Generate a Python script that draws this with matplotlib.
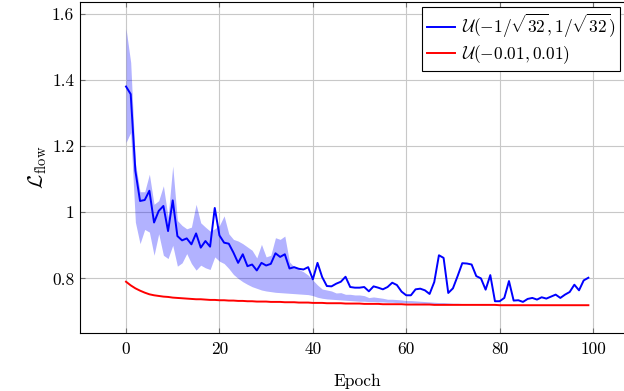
import matplotlib
matplotlib.use("Agg")
import matplotlib.pyplot as plt
import numpy as np

epochs = list(range(100))

blue_line = [1.380, 1.357, 1.125, 1.034, 1.037, 1.065, 0.969, 1.004, 1.019, 0.943,
             1.036, 0.928, 0.915, 0.921, 0.903, 0.936, 0.893, 0.913, 0.896, 1.013,
             0.930, 0.908, 0.905, 0.878, 0.847, 0.873, 0.837, 0.842, 0.824, 0.847,
             0.839, 0.844, 0.876, 0.865, 0.873, 0.830, 0.834, 0.829, 0.827, 0.834,
             0.797, 0.847, 0.804, 0.777, 0.776, 0.784, 0.790, 0.805, 0.774, 0.772,
             0.772, 0.774, 0.761, 0.776, 0.772, 0.767, 0.774, 0.787, 0.780, 0.760,
             0.749, 0.749, 0.767, 0.769, 0.764, 0.753, 0.789, 0.870, 0.862, 0.756,
             0.770, 0.807, 0.846, 0.845, 0.842, 0.807, 0.800, 0.766, 0.810, 0.731,
             0.731, 0.741, 0.792, 0.733, 0.734, 0.729, 0.738, 0.741, 0.736, 0.743,
             0.739, 0.745, 0.751, 0.741, 0.751, 0.759, 0.781, 0.764, 0.794, 0.802]

blue_upper = [1.555, 1.453, 1.150, 1.062, 1.062, 1.115, 1.024, 1.035, 1.080, 0.985,
              1.140, 0.975, 0.960, 0.950, 0.955, 1.024, 0.968, 0.955, 0.943, 0.950,
              0.960, 0.989, 0.935, 0.918, 0.913, 0.905, 0.895, 0.885, 0.862, 0.903,
              0.865, 0.870, 0.923, 0.918, 0.928, 0.850, 0.835, 0.827, 0.820, 0.810,
              0.795, 0.780, 0.768, 0.765, 0.762, 0.756, 0.757, 0.752, 0.752, 0.750,
              0.750, 0.748, 0.742, 0.744, 0.742, 0.740, 0.737, 0.737, 0.736, 0.735,
              0.733, 0.733, 0.732, 0.731, 0.730, 0.729, 0.728, 0.727, 0.727, 0.726,
              0.725, 0.725, 0.724, 0.724, 0.723, 0.723, 0.722, 0.722, 0.722, 0.721,
              0.721, 0.721, 0.721, 0.720, 0.720, 0.720, 0.720, 0.720, 0.720, 0.720,
              0.720, 0.720, 0.720, 0.720, 0.720, 0.720, 0.720, 0.720, 0.720, 0.720]

blue_lower = [1.211, 1.241, 0.970, 0.905, 0.948, 0.940, 0.870, 0.935, 0.870, 0.860,
              0.900, 0.837, 0.847, 0.875, 0.845, 0.825, 0.840, 0.832, 0.827, 0.865,
              0.852, 0.845, 0.830, 0.812, 0.800, 0.790, 0.782, 0.775, 0.770, 0.765,
              0.762, 0.760, 0.758, 0.757, 0.756, 0.755, 0.754, 0.753, 0.752, 0.751,
              0.748, 0.743, 0.740, 0.738, 0.737, 0.736, 0.735, 0.734, 0.733, 0.732,
              0.731, 0.731, 0.730, 0.730, 0.729, 0.729, 0.728, 0.728, 0.727, 0.727,
              0.726, 0.726, 0.725, 0.725, 0.724, 0.724, 0.723, 0.723, 0.723, 0.722,
              0.722, 0.722, 0.721, 0.721, 0.721, 0.721, 0.720, 0.720, 0.720, 0.720,
              0.720, 0.720, 0.719, 0.719, 0.719, 0.719, 0.719, 0.719, 0.719, 0.719,
              0.719, 0.719, 0.719, 0.719, 0.719, 0.719, 0.719, 0.719, 0.719, 0.719]

red_line = [0.790, 0.779, 0.770, 0.763, 0.757, 0.752, 0.749, 0.747, 0.745, 0.744,
            0.742, 0.741, 0.740, 0.739, 0.738, 0.737, 0.737, 0.736, 0.735, 0.735,
            0.734, 0.734, 0.733, 0.733, 0.732, 0.732, 0.731, 0.731, 0.730, 0.730,
            0.730, 0.729, 0.729, 0.729, 0.728, 0.728, 0.728, 0.727, 0.727, 0.727,
            0.726, 0.726, 0.726, 0.725, 0.725, 0.725, 0.725, 0.724, 0.724, 0.724,
            0.724, 0.723, 0.723, 0.723, 0.723, 0.722, 0.722, 0.722, 0.722, 0.722,
            0.721, 0.721, 0.721, 0.721, 0.721, 0.721, 0.720, 0.720, 0.720, 0.720,
            0.720, 0.720, 0.720, 0.720, 0.720, 0.720, 0.720, 0.720, 0.720, 0.720,
            0.719, 0.719, 0.719, 0.719, 0.719, 0.719, 0.719, 0.719, 0.719, 0.719,
            0.719, 0.719, 0.719, 0.719, 0.719, 0.719, 0.719, 0.719, 0.719, 0.719]

x_ticks = [0, 20, 40, 60, 80, 100]
y_ticks = [0.8, 1.0, 1.2, 1.4, 1.6]
y_tick_labels = ["0.8", "1", "1.2", "1.4", "1.6"]
legend_labels = [r"$\mathcal{U}(-1/\sqrt{32},1/\sqrt{32})$", r"$\mathcal{U}(-0.01,0.01)$"]

plt.rcParams["font.family"] = ["cmr10", "DejaVu Serif"]
plt.rcParams["mathtext.fontset"] = "cm"
plt.rcParams["axes.unicode_minus"] = False
plt.rcParams["axes.formatter.use_mathtext"] = True

fig = plt.figure(figsize=(6.24, 3.91), dpi=100)
ax = fig.add_axes([79.8 / 624, (391 - 333) / 391, (634.6 - 79.8) / 624, (333 - 1.5) / 391])

ax.fill_between(epochs, blue_lower, blue_upper, color=(0.0, 0.0, 1.0), alpha=0.3, linewidth=0)
ax.plot(epochs, blue_line, color=(0, 0, 1), lw=1.4, label=legend_labels[0])
ax.plot(epochs, red_line, color=(1, 0, 0), lw=1.4, label=legend_labels[1])

ax.set_xlim(-9.9, 108.9)
ax.set_ylim(0.635, 1.637)
ax.set_xticks(x_ticks)
ax.set_xticklabels([str(t) for t in x_ticks])
ax.set_yticks(y_ticks)
ax.set_yticklabels(y_tick_labels)
ax.grid(True, color="#c8c8c8", lw=0.8)
ax.set_axisbelow(True)
ax.tick_params(direction="in", length=3.5, color="#707070", labelsize=12.5,
               top=True, right=True, labelcolor="black")
ax.tick_params(axis="x", pad=6)
ax.tick_params(axis="y", pad=4)
for s in ax.spines.values():
    s.set_linewidth(0.8)
    s.set_color("black")

ax.set_xlabel("Epoch", fontsize=12.5, labelpad=12)
ax.set_ylabel(r"$\mathcal{L}_{\mathrm{flow}}$", fontsize=15, labelpad=2)

leg = ax.legend(loc="upper right", bbox_to_anchor=(620 / 624, 1 - 7 / 391),
                bbox_transform=fig.transFigure, borderaxespad=0, fancybox=False,
                edgecolor="black", framealpha=1, fontsize=12.5, handlelength=1.6,
                handletextpad=0.4, borderpad=0.3, labelspacing=0.15)
leg.get_frame().set_linewidth(0.8)

fig.savefig("out.png", dpi=100)
